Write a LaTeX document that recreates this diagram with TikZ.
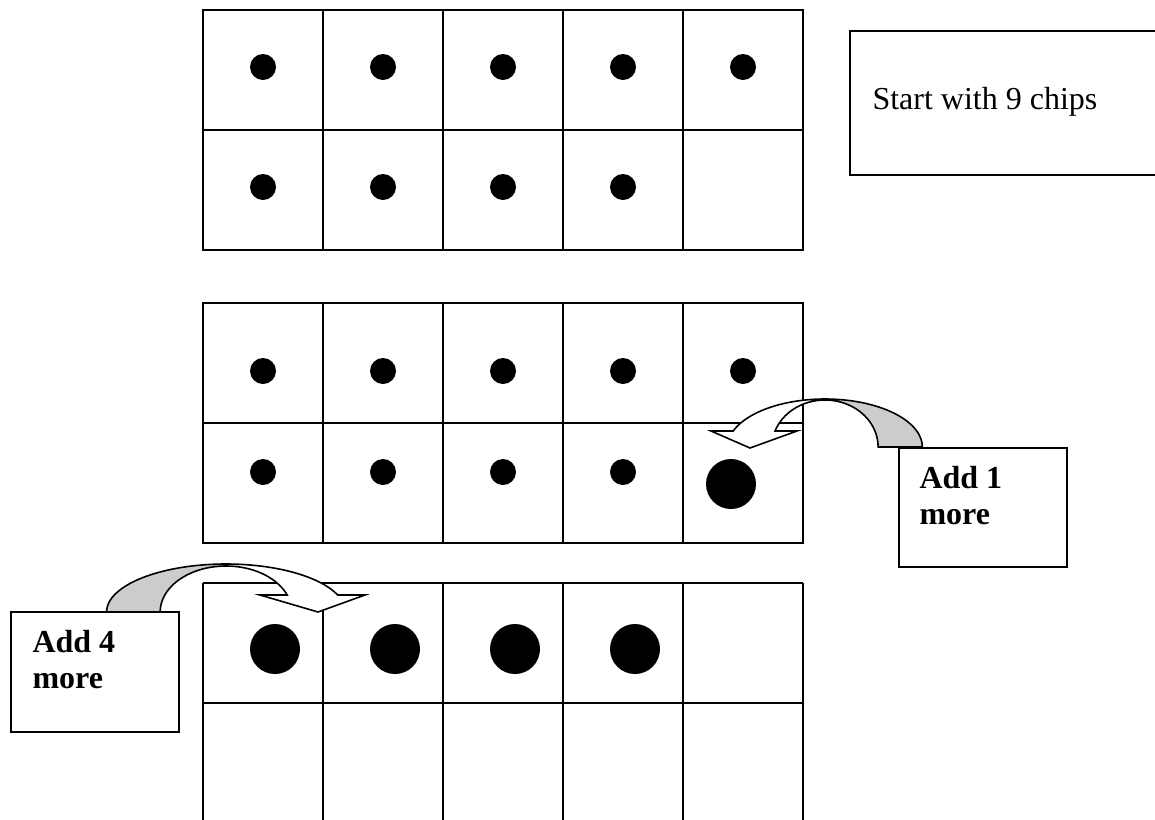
\documentclass[tikz,border=0pt]{standalone}
\usepackage{fontspec}
\setmainfont{Liberation Serif}
\begin{document}
\begin{tikzpicture}[x=0.375pt,y=-0.375pt,
  gridline/.style={line width=0.75pt},
  chip/.style={fill=black},
  callout/.style={draw, line width=0.75pt, fill=white, inner sep=0pt},
  arrowband/.style={draw, line width=0.6pt, fill=white, line join=miter},
  backface/.style={draw, line width=0.6pt, fill=black!20},
  lbl/.style={anchor=base west, inner sep=0pt, font=\fontsize{12}{14}\selectfont},
  blbl/.style={anchor=base west, inner sep=0pt, font=\fontsize{12}{14}\selectfont\bfseries}]
\useasboundingbox (0,0) rectangle (1155,819);

% ---- grid 1 ----
\draw[gridline] (203,10) rectangle (803,250);
\foreach \x in {323,443,563,683} \draw[gridline] (\x,10) -- (\x,250);
\draw[gridline] (203,130) -- (803,130);
\foreach \x in {263,383,503,623,743} \fill[chip] (\x,67) circle[radius=13];
\foreach \x in {263,383,503,623} \fill[chip] (\x,187) circle[radius=13];

% ---- grid 2 ----
\draw[gridline] (203,303) rectangle (803,543);
\foreach \x in {323,443,563,683} \draw[gridline] (\x,303) -- (\x,543);
\draw[gridline] (203,423) -- (803,423);
\foreach \x in {263,383,503,623,743} \fill[chip] (\x,371) circle[radius=13];
\foreach \x in {263,383,503,623} \fill[chip] (\x,472) circle[radius=13];
\fill[chip] (731,484) circle[radius=25];

% ---- grid 3 ----
\foreach \x in {203,323,443,563,683,803} \draw[gridline] (\x,583) -- (\x,822);
\draw[gridline] (203,583) -- (803,583);
\draw[gridline] (203,703) -- (803,703);
\foreach \x in {275,395,515,635} \fill[chip] (\x,649) circle[radius=25];

% ---- start box ----
\draw[gridline] (1158,31) -- (850,31) -- (850,175) -- (1158,175);
\node[lbl] (start) at (872,109) {Start with 9 chips};

% ---- callout boxes ----
\node[callout, minimum width=63pt, minimum height=44.6pt] (add1box) at (983,507.5) {};
\node[blbl] (add1a) at (919,488) {Add 1};
\node[blbl] (add1b) at (919,524) {more};

\node[callout, minimum width=63pt, minimum height=45pt] (add4box) at (95,672) {};
\node[blbl] (add4a) at (32,652) {Add 4};
\node[blbl] (add4b) at (32,688) {more};

% ---- curved arrow 1 (Add 1 more) ----
\filldraw[backface] plot[domain=0:90,samples=40] ({825+97.3*cos(\x)},{447-48*sin(\x)})
  -- plot[domain=90:0,samples=40] ({825+53.1*cos(\x)},{447-47*sin(\x)}) -- cycle;
\filldraw[arrowband] plot[domain=90:160.5,samples=40] ({825+97.3*cos(\x)},{447-48*sin(\x)})
  -- (711,431) -- (750,448) -- (797,431)
  -- plot[domain=160.1:90,samples=40] ({825+53.1*cos(\x)},{447-47*sin(\x)}) -- cycle;

% ---- curved arrow 2 (Add 4 more) ----
\filldraw[backface] plot[domain=180:90,samples=40] ({226+119.4*cos(\x)},{612-48*sin(\x)})
  -- plot[domain=90:180,samples=40] ({226+65.8*cos(\x)},{612-46*sin(\x)}) -- cycle;
\filldraw[arrowband] plot[domain=90:20.7,samples=40] ({226+119.4*cos(\x)},{612-48*sin(\x)})
  -- (365,595) -- (318,612) -- (260,595)
  -- plot[domain=21.7:90,samples=40] ({226+65.8*cos(\x)},{612-46*sin(\x)}) -- cycle;
\end{tikzpicture}
\end{document}
